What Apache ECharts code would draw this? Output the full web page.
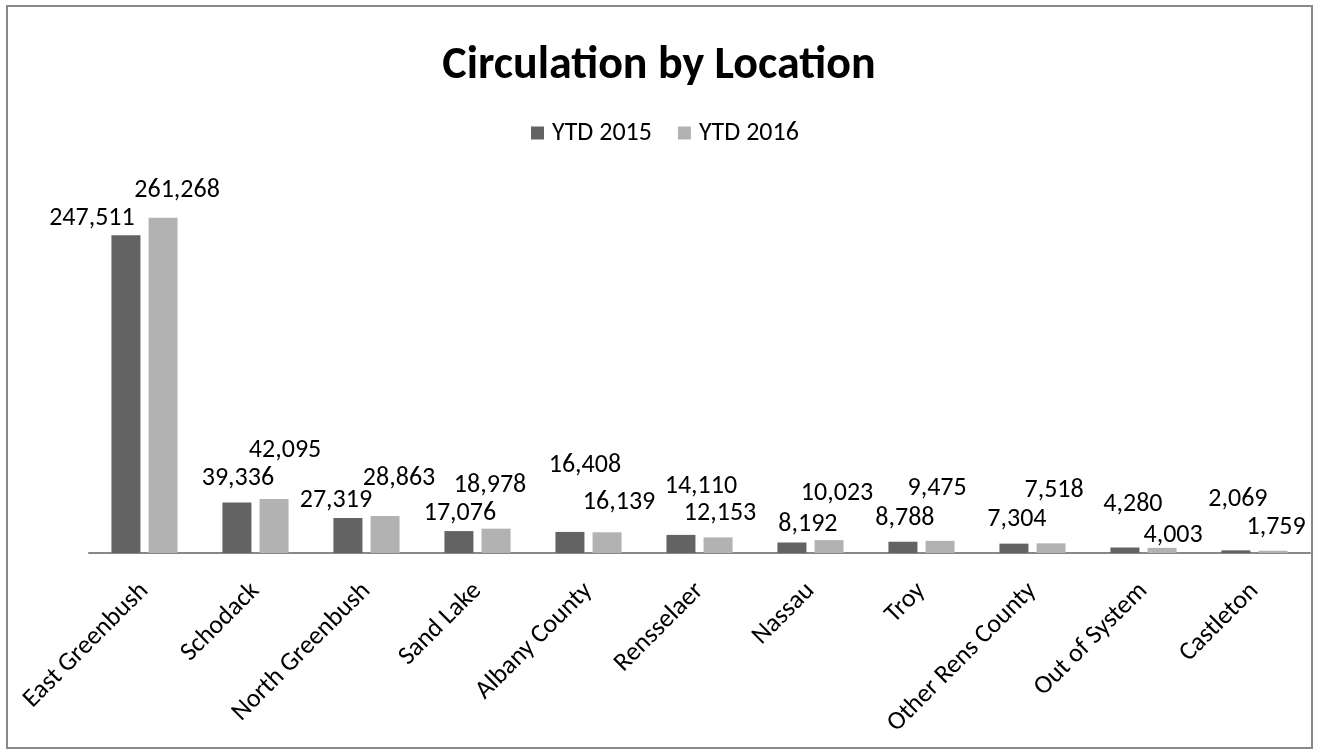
<!DOCTYPE html>
<html>
<head>
<meta charset="utf-8">
<title>Circulation by Location</title>
<script src="https://cdn.jsdelivr.net/npm/echarts@6/dist/echarts.min.js"></script>
<style>
  html, body { margin: 0; padding: 0; background: #ffffff; }
  #chart { width: 1318px; height: 753px; }
</style>
</head>
<body>
<div id="chart"></div>
<script>
// data
var locations = ['East Greenbush', 'Schodack', 'North Greenbush', 'Sand Lake', 'Albany County',
    'Rensselaer', 'Nassau', 'Troy', 'Other Rens County', 'Out of System', 'Castleton'];
var ytd2015 = [247511, 39336, 27319, 17076, 16408, 14110, 8192, 8788, 7304, 4280, 2069];
var ytd2016 = [261268, 42095, 28863, 18978, 16139, 12153, 10023, 9475, 7518, 4003, 1759];

// labels were dragged around by hand in the original, so nudge them the same way
var nudge2015 = [[-34, -2], [1, -9], [-12, -2], [1, -3], [15, -51], [20, -33], [16, -3], [2, -8], [3, -9], [8, -28], [2, -36]];
var nudge2016 = [[14, -12], [11, -33], [14, -22], [-6, -28], [12, -15], [2, -9], [8, -32], [-3, -37], [3, -38], [11, 3], [3, -8]];

var fontName = 'Carlito, Lato, sans-serif';

function withNudge(values, nudge) {
    return values.map(function(v, i) {
        return { value: v, label: { offset: nudge[i] } };
    });
}

var myChart = echarts.init(document.getElementById('chart'));

var valueLabel = {
    show: true,
    position: 'top',
    distance: 2,
    fontFamily: fontName,
    fontSize: 26,
    color: '#000000',
    formatter: function(p) { return p.value.toLocaleString('en-US'); }
};

var option = {
    animation: false,
    title: {
        text: 'Circulation by Location',
        left: 'center',
        top: 38,
        textStyle: {
            fontFamily: fontName,
            fontSize: 46,
            fontWeight: 'bold',
            color: '#000000'
        }
    },
    legend: {
        left: 526,
        top: 115,
        itemWidth: 13,
        itemHeight: 13,
        itemGap: 26,
        icon: 'rect',
        textStyle: {
            fontFamily: fontName,
            fontSize: 26,
            color: '#000000',
            padding: [0, 0, 0, 3]
        },
        data: ['YTD 2015', 'YTD 2016']
    },
    graphic: [{
        type: 'rect',
        shape: { x: 7, y: 6, width: 1305, height: 742 },
        style: { fill: 'none', stroke: '#888888', lineWidth: 2 },
        silent: true
    }],
    grid: {
        left: 89,
        right: 8,
        top: 168,
        bottom: 200
    },
    xAxis: {
        type: 'category',
        data: locations,
        axisLine: { lineStyle: { color: '#888888', width: 2 } },
        axisTick: { show: false },
        axisLabel: {
            interval: 0,
            rotate: 45,
            margin: 34,
            fontFamily: fontName,
            fontSize: 26,
            color: '#000000'
        }
    },
    yAxis: {
        type: 'value',
        min: 0,
        max: 300000,
        show: false,
        splitLine: { show: false }
    },
    series: [{
        name: 'YTD 2015',
        type: 'bar',
        barWidth: 29,
        barGap: '28%',
        itemStyle: { color: '#636363' },
        label: valueLabel,
        data: withNudge(ytd2015, nudge2015)
    }, {
        name: 'YTD 2016',
        type: 'bar',
        barWidth: 29,
        barGap: '28%',
        itemStyle: { color: '#b2b2b2' },
        label: valueLabel,
        data: withNudge(ytd2016, nudge2016)
    }]
};

myChart.setOption(option);
</script>
</body>
</html>
